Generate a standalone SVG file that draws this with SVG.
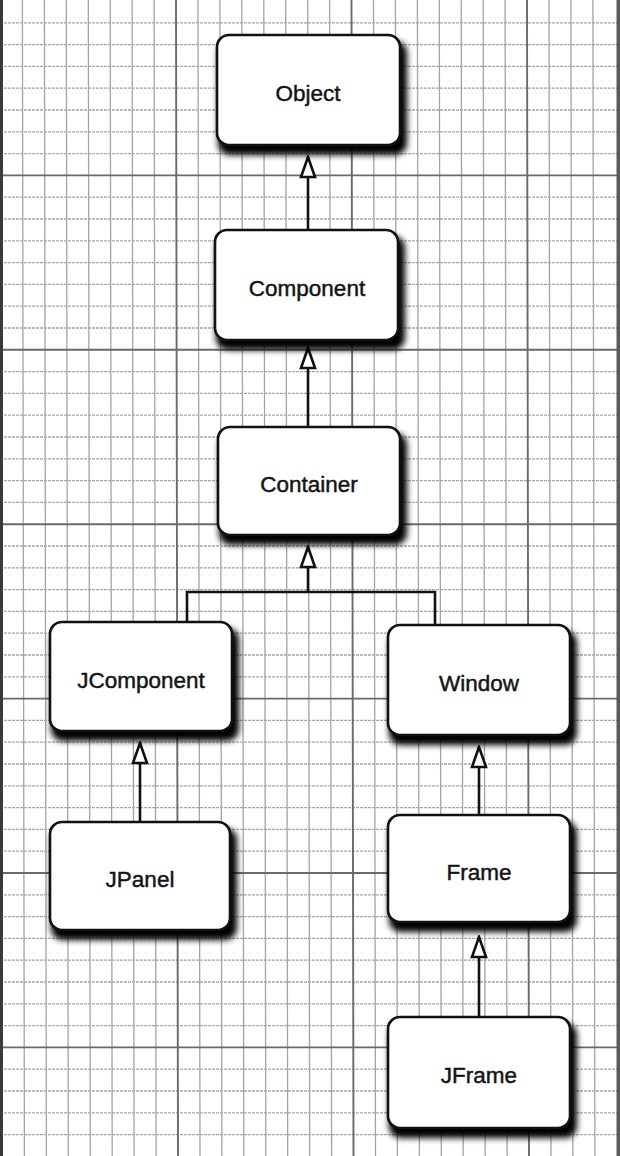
<svg xmlns="http://www.w3.org/2000/svg" width="620" height="1156" viewBox="0 0 620 1156">
<style>
.minor{stroke:#a3a3a3;stroke-width:1.3;fill:none}
.minorh{stroke:#a6a6a6;stroke-width:1.3;fill:none;stroke-dasharray:3 1}
.major{stroke:#6a6a6a;stroke-width:1.9;fill:none}
.box{fill:#fff;stroke:#111;stroke-width:2.6}
.shadow{fill:#050505;filter:url(#blur)}
.label{font-family:"Liberation Sans",Arial,Helvetica,sans-serif;font-size:22.5px;fill:#141414;stroke:#141414;stroke-width:0.45;text-anchor:middle}
.conn{stroke:#111;stroke-width:2.6;fill:none}
</style>
<defs>
<filter id="blur" x="-20%" y="-20%" width="140%" height="140%"><feGaussianBlur stdDeviation="3"/></filter>
<marker id="tri" markerUnits="userSpaceOnUse" viewBox="-2 -2 24 18" markerWidth="24" markerHeight="18" refX="20" refY="7" orient="auto">
<path d="M0,0 L20,7 L0,14 Z" fill="#fff" stroke="#111" stroke-width="2.6" stroke-linejoin="miter"/>
</marker>
</defs>
<rect width="620" height="1156" fill="#fff"/>
<g id="grid">
<path class="minor" d="M22.4,0L24.4,1156M44.4,0L46.4,1156M66.3,0L68.3,1156M88.3,0L90.3,1156M110.2,0L112.2,1156M132.1,0L134.1,1156M154.1,0L156.1,1156M198,0L200,1156M219.9,0L221.9,1156M241.8,0L243.8,1156M263.8,0L265.8,1156M285.7,0L287.7,1156M307.7,0L309.7,1156M329.6,0L331.6,1156M373.5,0L375.5,1156M395.4,0L397.4,1156M417.4,0L419.4,1156M439.3,0L441.3,1156M461.2,0L463.2,1156M483.2,0L485.2,1156M505.1,0L507.1,1156M549,0L551,1156M570.9,0L572.9,1156M592.9,0L594.9,1156"/>
<path class="minorh" d="M0,22.8H620M0,44.6H620M0,66.4H620M0,88.2H620M0,110H620M0,131.8H620M0,153.6H620M0,197.2H620M0,219H620M0,240.8H620M0,262.6H620M0,284.4H620M0,306.2H620M0,328H620M0,371.6H620M0,393.4H620M0,415.2H620M0,437H620M0,458.8H620M0,480.6H620M0,502.4H620M0,546H620M0,567.8H620M0,589.6H620M0,611.4H620M0,633.2H620M0,655H620M0,676.8H620M0,720.4H620M0,742.2H620M0,764H620M0,785.8H620M0,807.6H620M0,829.4H620M0,851.2H620M0,894.8H620M0,916.6H620M0,938.4H620M0,960.2H620M0,982H620M0,1003.8H620M0,1025.6H620M0,1069.2H620M0,1091H620M0,1112.8H620M0,1134.6H620"/>
<path class="major" d="M176,0L178,1156M351.5,0L353.5,1156M527,0L529,1156M0,175.4H620M0,349.8H620M0,524.2H620M0,698.6H620M0,873H620M0,1047.4H620"/>
<rect x="0" y="0" width="3" height="1156" fill="#3a3a3a"/>
<rect x="616.5" y="0" width="3.5" height="1156" fill="#5a5a5a"/>
</g>
<g id="connectors">
<path class="conn" d="M308,230V157" marker-end="url(#tri)"/>
<path class="conn" d="M308,427V348" marker-end="url(#tri)"/>
<path class="conn" d="M187,622V592H435V625M308,592V547" marker-end="url(#tri)"/>
<path class="conn" d="M140,822V743" marker-end="url(#tri)"/>
<path class="conn" d="M479,815V747" marker-end="url(#tri)"/>
<path class="conn" d="M479,1017V937" marker-end="url(#tri)"/>
</g>
<g id="object">
<rect class="shadow" x="218" y="41" width="189" height="114" rx="12"/>
<rect class="box" x="217" y="35" width="183" height="110" rx="12"/>
<text class="label" x="308" y="101">Object</text>
</g>
<g id="component">
<rect class="shadow" x="216" y="236" width="189" height="114" rx="12"/>
<rect class="box" x="215" y="230" width="183" height="110" rx="12"/>
<text class="label" x="307" y="296">Component</text>
</g>
<g id="container">
<rect class="shadow" x="219" y="433" width="188" height="112" rx="12"/>
<rect class="box" x="218" y="427" width="182" height="108" rx="12"/>
<text class="label" x="309" y="492">Container</text>
</g>
<g id="jcomponent">
<rect class="shadow" x="51" y="628" width="188" height="113" rx="12"/>
<rect class="box" x="50" y="622" width="182" height="109" rx="12"/>
<text class="label" x="141" y="688">JComponent</text>
</g>
<g id="window">
<rect class="shadow" x="389" y="631" width="188" height="114" rx="12"/>
<rect class="box" x="388" y="625" width="182" height="110" rx="12"/>
<text class="label" x="479" y="691">Window</text>
</g>
<g id="jpanel">
<rect class="shadow" x="51" y="828" width="186" height="112" rx="12"/>
<rect class="box" x="50" y="822" width="180" height="108" rx="12"/>
<text class="label" x="140" y="887">JPanel</text>
</g>
<g id="frame">
<rect class="shadow" x="389" y="821" width="188" height="111" rx="12"/>
<rect class="box" x="388" y="815" width="182" height="107" rx="12"/>
<text class="label" x="479" y="880">Frame</text>
</g>
<g id="jframe">
<rect class="shadow" x="389" y="1023" width="188" height="115" rx="12"/>
<rect class="box" x="388" y="1017" width="182" height="111" rx="12"/>
<text class="label" x="479" y="1083">JFrame</text>
</g>
</svg>
